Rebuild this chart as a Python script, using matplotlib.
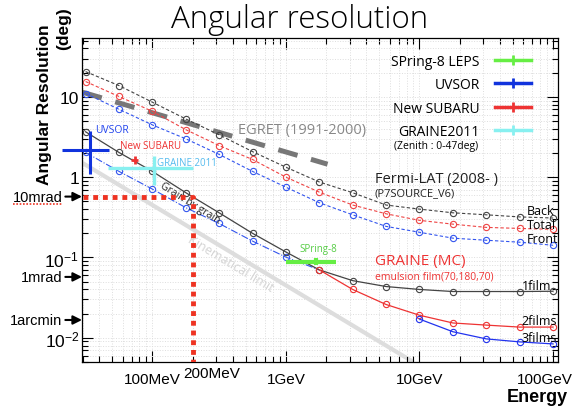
import matplotlib
matplotlib.use("Agg")
import matplotlib.pyplot as plt
from matplotlib.lines import Line2D
from matplotlib.transforms import ScaledTranslation
import numpy as np

# energies of the Monte Carlo / Fermi points (GeV)
energy = [0.0316, 0.0562, 0.1, 0.178, 0.316, 0.562, 1.0, 1.78, 3.16, 5.62,
          10.0, 17.8, 31.6, 56.2, 100.0]

# Fermi-LAT P7SOURCE_V6 (deg)
lat_back = [20.6, 13.8, 8.57, 5.3, 3.37, 2.08, 1.33, 0.87, 0.64, 0.45, 0.40,
            0.36, 0.34, 0.32, 0.31]
lat_total = [15.5, 10.1, 6.6, 3.9, 2.47, 1.66, 1.0, 0.65, 0.45, 0.35, 0.29,
             0.26, 0.237, 0.23, 0.224]
lat_front = [11.0, 7.0, 4.47, 3.0, 1.92, 1.18, 0.75, 0.48, 0.34, 0.244, 0.206,
             0.174, 0.164, 0.155, 0.142]

# GRAINE MC
film1 = [3.67, 2.03, 1.18, 0.64, 0.36, 0.20, 0.117, 0.070, 0.0515, 0.0435,
         0.040, 0.0377, 0.0377, 0.0377, 0.038]
film2_e = [1.78, 3.16, 5.62, 10.0, 17.8, 31.6, 56.2, 100.0]
film2 = [0.070, 0.040, 0.026, 0.0191, 0.0153, 0.0144, 0.0136, 0.0136]
film3_e = [10.0, 17.8, 31.6, 56.2, 100.0]
film3 = [0.0171, 0.0119, 0.0097, 0.0089, 0.0084]
grain_e = [0.0316, 0.0562, 0.1, 0.178, 0.316, 0.562, 1.0, 1.78]
grain = [2.03, 1.18, 0.71, 0.417, 0.265, 0.16, 0.101, 0.070]

# EGRET and kinematical limit (end points)
egret_e = [0.03, 2.05]
egret_v = [11.4, 1.45]
kin_e = [0.03, 9.0]
kin_v = [1.5, 0.005]

# beam tests: centre, (low, high) energy, centre, (low, high) resolution
beams = {
    "SPring-8 LEPS": (1.67, (1.0, 2.39), 0.088, (0.0805, 0.098), "#66ee44", 3.0),
    "UVSOR": (0.034, (0.0209, 0.0472), 2.15, (1.09, 3.77), "#1133dd", 2.2),
    "New SUBARU": (0.0736, (0.0687, 0.0774), 1.62, (1.44, 1.86), "#ee3333", 2.0),
    "GRAINE2011": (0.1035, (0.0464, 0.201), 1.29, (0.80, 1.86), "#88f0f0", 2.4),
}

# reference lines
mrad10 = 0.573
mrad1 = 0.0573
arcmin1 = 0.01667
target_e = [0.03, 0.2, 0.2]
target_v = [mrad10, mrad10, 0.005]

xticks = [0.1, 1.0, 10.0, 100.0]
xticklabels = ["100MeV", "1GeV", "10GeV", "100GeV"]
yticks = [0.01, 0.1, 1, 10]
yticklabels = ["$10^{-2}$", "$10^{-1}$", "1", "10"]

plt.rcParams['font.family'] = ['Liberation Sans', 'DejaVu Sans']
plt.rcParams['mathtext.fontset'] = 'custom'
plt.rcParams['mathtext.rm'] = 'Liberation Sans'
plt.rcParams['mathtext.it'] = 'Liberation Sans'
OS = ['Open Sans', 'DejaVu Sans']

fig = plt.figure(figsize=(5.79, 4.10), dpi=100)
ax = fig.add_axes([82/579, 1-363/410, 476/579, 324/410])
ax.set_xscale('log')
ax.set_yscale('log')
ax.set_xlim(0.0297, 109)
ax.set_ylim(0.005, 54)

ax.grid(which='both', color='#dddddd', ls=':', lw=0.7)

ax.plot(kin_e, kin_v, color='#dddddd', lw=3, solid_capstyle='butt', zorder=1)
ax.plot(egret_e, egret_v, color='#777777', lw=3.6, dashes=(4, 2.8),
        dash_capstyle='butt', zorder=2)

mk = dict(marker='o', mfc='none', ms=4.5, mew=0.8)
ax.plot(energy, lat_back, color='#444444', ls=(0, (3, 2)), lw=0.8, **mk)
ax.plot(energy, lat_total, color='#ee4444', ls=(0, (3, 2)), lw=0.8, **mk)
ax.plot(energy, lat_front, color='#3355ee', ls=(0, (3, 2)), lw=0.8, **mk)

ax.plot(grain_e, grain, color='#3355ee', ls='-.', lw=0.8, markevery=list(range(7)), **mk)
ax.plot(energy, film1, color='#444444', lw=0.9, **mk)
ax.plot(film2_e, film2, color='#ee3333', lw=0.9, **mk)
ax.plot(film3_e, film3, color='#2233ee', lw=0.9, **mk)

ax.plot(target_e, target_v, color='#ee3322', lw=3.5, ls=(0, (1, 1)),
        dash_capstyle='butt', zorder=5)

handles = []
for name, (e, (elo, ehi), v, (vlo, vhi), c, w) in beams.items():
    ax.errorbar([e], [v], xerr=[[e - elo], [ehi - e]], yerr=[[v - vlo], [vhi - v]],
                fmt='none', ecolor=c, elinewidth=w, capsize=0, clip_on=False, zorder=6)
    handles.append(Line2D([], [], color=c, lw=2.5, marker='|', ms=7, mew=2, label=name))

leg = ax.legend(handles=handles, loc='upper right', bbox_to_anchor=(0.958, 0.972),
                frameon=False, markerfirst=False, prop={'family': OS, 'size': 10},
                handlelength=2.6, handletextpad=1.1, labelspacing=0.6, borderpad=0,
                numpoints=1)
ax.text(0.655, 0.668, "(Zenith : 0-47deg)", transform=ax.transAxes, fontsize=7.5,
        family=OS, va='center')

# in-plot labels
ax.text(0.0372, 3.88, "UVSOR", color='#2244ee', fontsize=7.5, family=OS, va='center')
ax.text(0.0569, 2.47, "New SUBARU", color='#ee3333', fontsize=7, family=OS, va='center')
ax.text(0.108, 1.53, "GRAINE 2011", color='#55bbee', fontsize=7, family=OS, va='center')
ax.text(1.27, 0.13, "SPring-8", color='#55cc44', fontsize=7, family=OS, va='center')
ax.text(0.437, 3.88, "EGRET (1991-2000)", color='#888888', fontsize=10.5, family=OS, va='center')
ax.text(4.64, 0.97, "Fermi-LAT (2008- )", color='#222222', fontsize=10.5, family=OS, va='center')
ax.text(4.64, 0.64, "(P7SOURCE_V6)", color='#222222', fontsize=8, family=OS, va='center')
ax.text(64, 0.38, "Back", fontsize=9, family=OS, va='center')
ax.text(64, 0.258, "Total", fontsize=9, family=OS, va='center')
ax.text(64, 0.174, "Front", fontsize=9, family=OS, va='center')
ax.text(4.64, 0.0907, "GRAINE (MC)", color='#ee3333', fontsize=11, family=OS, va='center')
ax.text(4.64, 0.0591, "emulsion film(70,180,70)", color='#ee3333', fontsize=7.5,
        family=OS, va='center')
ax.text(58.5, 0.0447, "1film", fontsize=9, family=OS, va='center')
ax.text(58.5, 0.0162, "2films", fontsize=9, family=OS, va='center')
ax.text(58.5, 0.0100, "3films", fontsize=9, family=OS, va='center')
ax.text(0.387, 0.0857, "Kinematical limit", color='#d4d4d4', fontsize=9, family=OS,
        rotation=-31, rotation_mode='anchor', ha='center', va='center')
ax.text(0.19, 0.48, "Grain by grain", color='#222222', fontsize=7.5, family=OS,
        rotation=-32, rotation_mode='anchor', ha='center', va='center')

# axes
ax.set_xticks(xticks)
ax.set_xticklabels(xticklabels)
ax.set_yticks(yticks)
ax.set_yticklabels(yticklabels)
ax.xaxis.set_minor_formatter(matplotlib.ticker.NullFormatter())
ax.yaxis.set_minor_formatter(matplotlib.ticker.NullFormatter())
ax.tick_params(which='both', direction='in', top=True, right=True, width=0.8)
ax.tick_params(which='major', length=8)
ax.tick_params(which='minor', length=4)
ax.tick_params(axis='x', labelsize=11, pad=7)
ax.tick_params(axis='y', labelsize=12.5, pad=2)
for s in ax.spines.values():
    s.set_linewidth(0.9)

last = ax.get_xticklabels()[-1]
last.set_horizontalalignment('right')
last.set_transform(last.get_transform() + ScaledTranslation(20/100, 0, fig.dpi_scale_trans))

ax.text(0.169, -0.033, "200MeV", transform=ax.get_xaxis_transform(), fontsize=11,
        ha='left', va='center')

for lab, val in [("10mrad", mrad10), ("1mrad", mrad1), ("1arcmin", arcmin1)]:
    ax.annotate(lab, xy=(0, val), xycoords=('axes fraction', 'data'),
                xytext=(-14, 0), textcoords='offset points', ha='right', va='center',
                fontsize=10.5, annotation_clip=False,
                arrowprops=dict(arrowstyle='-|>,head_length=0.5,head_width=0.25',
                                color='k', lw=1.5, shrinkA=0, shrinkB=0))
fig.add_artist(Line2D([13/579, 62/579], [1-205/410, 1-205/410], color='#ee3322',
                      lw=1.2, ls=(0, (1, 1))))

fig.text(300/579, 1-20/410, "Angular resolution", ha='center', va='center',
         fontsize=22.5, family=OS, fontweight='light')
fig.text(45/579, 1-185/410, "Angular Resolution", rotation=90, ha='center',
         va='bottom', fontsize=12.5, fontweight='bold')
fig.text(64/579, 1-7/410, "(deg)", rotation=90, ha='center', va='top',
         fontsize=12.5, fontweight='bold')
fig.text(537/579, 1-398/410, "Energy", ha='center', va='center', fontsize=13,
         fontweight='bold')

fig.savefig("out.png", dpi=100)
